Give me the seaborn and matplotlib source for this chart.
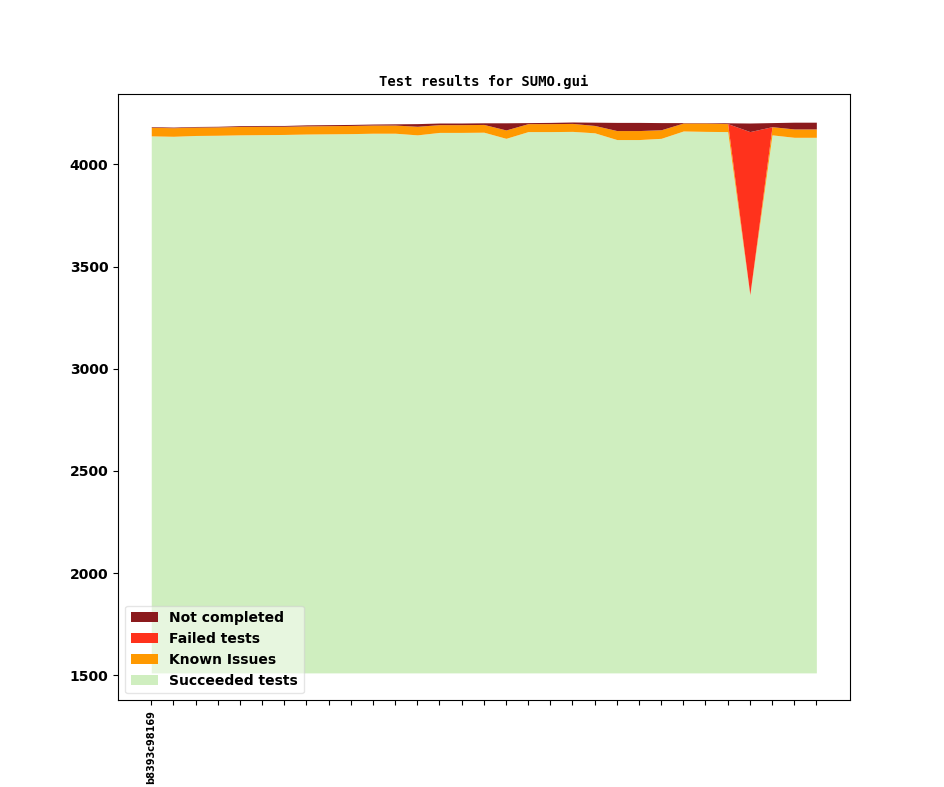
import numpy as np
import pandas as pd
import seaborn as sns
import matplotlib
matplotlib.use("Agg")
import matplotlib.pyplot as plt

# commits (only the first one carries a label on the x axis)
commits = ["b8393c98169"] + [""] * 30

succeeded = [4140, 4138, 4142, 4143, 4145, 4146, 4147, 4149, 4150, 4151,
             4153, 4153, 4145, 4157, 4157, 4158, 4128, 4161, 4161, 4162,
             4155, 4122, 4122, 4128, 4164, 4162, 4161, 3362, 4145, 4133,
             4133]
known_issues = [42, 42, 41, 41, 41, 41, 40, 40, 40, 40,
                40, 40, 42, 38, 38, 38, 41, 39, 39, 39,
                36, 44, 44, 42, 39, 41, 39, 2, 40, 41,
                41]
failed = [0] * 27 + [797] + [0] * 3
not_completed = [3, 3, 3, 3, 4, 4, 4, 5, 5, 5,
                 5, 6, 13, 8, 8, 8, 35, 5, 6, 7,
                 16, 40, 40, 35, 2, 2, 4, 42, 20, 33,
                 33]
base = 1512

colors = {"Succeeded tests": "#cfeebf", "Known Issues": "#ff9900",
          "Failed tests": "#ff321c", "Not completed": "#8b1a1d"}

df = pd.DataFrame({"Succeeded tests": succeeded, "Known Issues": known_issues,
                   "Failed tests": failed, "Not completed": not_completed})

sns.set_style("ticks", {"axes.edgecolor": "black", "xtick.color": "black",
                        "ytick.color": "black", "text.color": "black",
                        "axes.labelcolor": "black", "axes.linewidth": 1.0})

fig, ax = plt.subplots(figsize=(9.44, 7.87), dpi=100)
fig.subplots_adjust(left=0.125, right=0.9, bottom=0.11, top=0.88)

x = np.arange(len(df))
# succeeded tests are drawn from the base line, the rest is stacked on top
lower = np.full(len(df), base, dtype=float)
upper = df["Succeeded tests"].values.astype(float)
handles = [ax.fill_between(x, lower, upper, color=colors["Succeeded tests"],
                           label="Succeeded tests", linewidth=0)]
for col in ["Known Issues", "Failed tests", "Not completed"]:
    lower = upper
    upper = lower + df[col].values
    h = ax.fill_between(x, lower, upper, color=colors[col], label=col, linewidth=0)
    handles.append(h)

ax.set_xticks(x)
ax.set_xticklabels(commits, rotation=90, fontsize=7, fontweight="bold")
ax.tick_params(axis="y", labelsize=10)
for lab in ax.get_yticklabels():
    lab.set_fontweight("bold")
ax.set_title("Test results for SUMO.gui", family="DejaVu Sans Mono",
             fontweight="bold", fontsize=10)

leg = ax.legend(handles[::-1], [h.get_label() for h in handles[::-1]],
                loc="lower left", prop={"weight": "bold", "size": 10},
                framealpha=0.5)
for t in leg.get_texts():
    t.set_color("black")

fig.savefig("out.png", dpi=100)
